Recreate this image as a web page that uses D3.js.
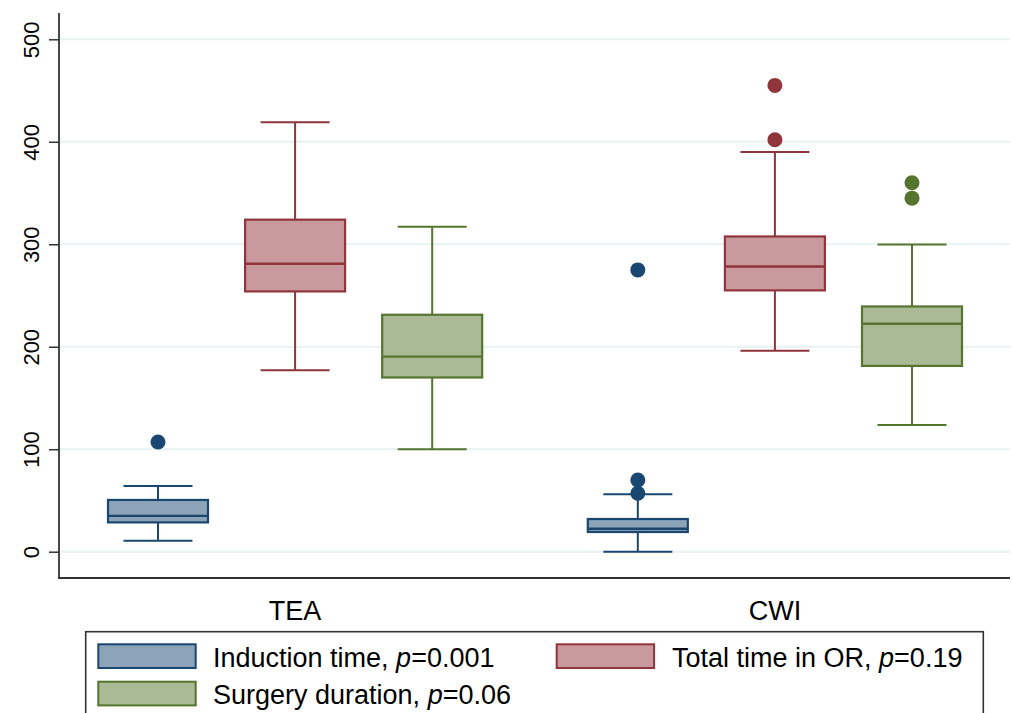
<!DOCTYPE html>
<html>
<head>
<meta charset="utf-8">
<script src="https://cdn.jsdelivr.net/npm/d3@7"></script>
<style>
  html, body { margin: 0; padding: 0; background: #fff; }
  svg { display: block; font-family: "Liberation Sans", Arial, sans-serif; }
</style>
</head>
<body>
<svg id="chart" width="1013" height="713"></svg>
<script>
// ---------------- data ----------------
const categories = ["TEA", "CWI"];
const seriesLabels = ["Induction time", "Total time in OR", "Surgery duration"];
const pValues = ["0.001", "0.19", "0.06"];
const yTicks = [0, 100, 200, 300, 400, 500];

// box stats per category: [lower whisker, Q1, median, Q3, upper whisker]
const inductionStats = [[10.7, 28.6, 35, 50.5, 64.2], [0, 19.2, 22.4, 31.9, 56]];
const totalStats     = [[177, 254, 281, 324, 419], [196, 255, 278.3, 307.6, 390]];
const surgeryStats   = [[100, 170, 190.4, 231.2, 317], [123.7, 181.3, 222.4, 239.3, 299.8]];

// outliers per category
const inductionOutliers = [[107], [275, 70, 57]];
const totalOutliers     = [[], [402, 455]];
const surgeryOutliers   = [[], [345, 360]];

const colors = ["#1a476f", "#90353b", "#55752f"];

// ---------------- layout ----------------
const svg = d3.select("#chart");
const plotLeft = 59, plotRight = 1010, plotTop = 13, plotBottom = 578;

const y = d3.scaleLinear().domain([0, 500]).range([551.7, 39.3]);
// slot positions: series i in category g at slot g*3.5 + i
const x = d3.scaleLinear().domain([0, 5.5]).range([158, 912]);
const boxW = 100, capW = 69;

// gridlines
svg.append("g").selectAll("line").data(yTicks).join("line")
  .attr("x1", plotLeft).attr("x2", plotRight)
  .attr("y1", d => y(d)).attr("y2", d => y(d))
  .attr("stroke", "#e8f1f3").attr("stroke-width", 2);

// y axis
const yAxis = d3.axisLeft(y).tickValues(yTicks).tickSize(10).tickFormat(d3.format("d"));
const gy = svg.append("g").attr("transform", `translate(${plotLeft},0)`).call(yAxis);
gy.select(".domain").remove();
gy.selectAll(".tick line").attr("stroke", "#333").attr("stroke-width", 1.5);
gy.selectAll(".tick text")
  .attr("x", null).attr("dy", null)
  .attr("transform", "translate(-20.5,0) rotate(-90)")
  .attr("text-anchor", "middle")
  .attr("fill", "#000")
  .style("font-size", "22px")
  .style("font-family", "'Liberation Sans', Arial, sans-serif");

// axis lines
svg.append("line").attr("x1", plotLeft).attr("x2", plotLeft).attr("y1", plotTop).attr("y2", plotBottom)
  .attr("stroke", "#333").attr("stroke-width", 1.8);
svg.append("line").attr("x1", plotLeft - 1).attr("x2", plotRight).attr("y1", plotBottom).attr("y2", plotBottom)
  .attr("stroke", "#333").attr("stroke-width", 1.8);

// category labels
svg.append("g").selectAll("text").data(categories).join("text")
  .attr("x", (d, g) => x(g * 3.5 + 1))
  .attr("y", 620)
  .attr("text-anchor", "middle")
  .style("font-size", "27px")
  .text(d => d);

// boxes
const allStats = [inductionStats, totalStats, surgeryStats];
const allOutliers = [inductionOutliers, totalOutliers, surgeryOutliers];
const boxes = [];
allStats.forEach((st, i) => st.forEach((s, g) => boxes.push({ i, g, s, out: allOutliers[i][g] })));

const bg = svg.append("g").selectAll("g").data(boxes).join("g");
bg.each(function (d) {
  const gsel = d3.select(this);
  const cx = x(d.g * 3.5 + d.i);
  const c = colors[d.i];
  const [lo, q1, med, q3, hi] = d.s;
  // whiskers
  gsel.append("line").attr("x1", cx).attr("x2", cx).attr("y1", y(hi)).attr("y2", y(q3))
    .attr("stroke", c).attr("stroke-width", 2);
  gsel.append("line").attr("x1", cx).attr("x2", cx).attr("y1", y(q1)).attr("y2", y(lo))
    .attr("stroke", c).attr("stroke-width", 2);
  gsel.append("line").attr("x1", cx - capW / 2).attr("x2", cx + capW / 2).attr("y1", y(hi)).attr("y2", y(hi))
    .attr("stroke", c).attr("stroke-width", 2);
  gsel.append("line").attr("x1", cx - capW / 2).attr("x2", cx + capW / 2).attr("y1", y(lo)).attr("y2", y(lo))
    .attr("stroke", c).attr("stroke-width", 2);
  // box
  gsel.append("rect").attr("x", cx - boxW / 2).attr("width", boxW)
    .attr("y", y(q3)).attr("height", y(q1) - y(q3))
    .attr("fill", d3.interpolateRgb(c, "#fff")(0.5))
    .attr("stroke", c).attr("stroke-width", 2.2);
  gsel.append("line").attr("x1", cx - boxW / 2).attr("x2", cx + boxW / 2).attr("y1", y(med)).attr("y2", y(med))
    .attr("stroke", c).attr("stroke-width", 2.4);
  // outliers
  gsel.selectAll("circle").data(d.out).join("circle")
    .attr("cx", cx).attr("cy", v => y(v)).attr("r", 7.5).attr("fill", c);
});

// legend
const legend = svg.append("g");
legend.append("rect").attr("x", 85.7).attr("y", 631.7).attr("width", 983.3 - 85.7).attr("height", 100)
  .attr("fill", "#fff").attr("stroke", "#333").attr("stroke-width", 1.6);
const legPos = [
  { sx: 98.3, sy: 644.3, tx: 213, ty: 666.5 },
  { sx: 556.7, sy: 644.3, tx: 672, ty: 666.5 },
  { sx: 98.3, sy: 681.7, tx: 213, ty: 703.5 }
];
seriesLabels.forEach((lab, i) => {
  const p = legPos[i];
  legend.append("rect").attr("x", p.sx).attr("y", p.sy).attr("width", 97.4).attr("height", 23.7)
    .attr("fill", d3.interpolateRgb(colors[i], "#fff")(0.5))
    .attr("stroke", colors[i]).attr("stroke-width", 2);
  const t = legend.append("text").attr("x", p.tx).attr("y", p.ty).style("font-size", "27px").attr("fill", "#000");
  t.append("tspan").text(lab + ", ");
  t.append("tspan").style("font-style", "italic").text("p");
  t.append("tspan").text("=" + pValues[i]);
});
</script>
</body>
</html>
